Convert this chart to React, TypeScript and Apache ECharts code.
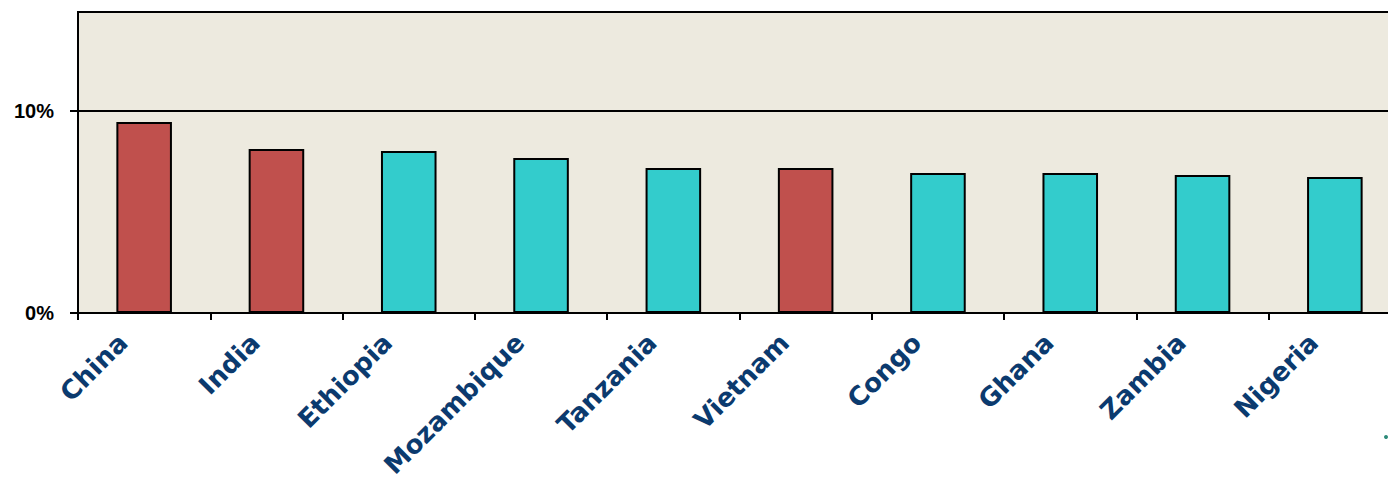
import React, { useEffect, useRef } from "react";
import * as echarts from "echarts";

const categories = ["China", "India", "Ethiopia", "Mozambique", "Tanzania", "Vietnam", "Congo", "Ghana", "Zambia", "Nigeria"];
const values = [9.46, 8.12, 8.02, 7.67, 7.18, 7.18, 6.93, 6.93, 6.83, 6.73];
const highlighted = [true, true, false, false, false, true, false, false, false, false];
const yTickValues = [0, 10];

const RED = "#C0504D";
const TEAL = "#33CCCC";

export default function App() {
  const ref = useRef<HTMLDivElement>(null);
  useEffect(() => {
    if (!ref.current) return;
    const chart = echarts.init(ref.current, null, { renderer: "svg" });
    chart.setOption({
      animation: false,
      grid: {
        left: 78,
        top: 12,
        width: 1323,
        height: 301,
        show: true,
        outerBoundsMode: "none",
        containLabel: false,
        backgroundColor: "#EDEADF",
        borderColor: "#000",
        borderWidth: 2,
      },
      xAxis: {
        type: "category",
        data: categories,
        axisLine: { lineStyle: { color: "#000", width: 2 } },
        axisTick: { show: true, length: 7, interval: 0, lineStyle: { color: "#000", width: 2 } },
        axisLabel: {
          interval: 0,
          rotate: 45,
          margin: 4,
          padding: [0, 30, 0, 0],
          color: "#0B3A6E",
          fontFamily: "DejaVu Sans",
          fontWeight: "bold",
          fontSize: 26,
        },
      },
      yAxis: {
        type: "value",
        min: 0,
        max: 14.9,
        interval: 10,
        axisLine: { show: true, lineStyle: { color: "#000", width: 2 } },
        axisTick: { show: true, length: 8, customValues: yTickValues, lineStyle: { color: "#000", width: 2 } },
        axisLabel: {
          customValues: yTickValues,
          formatter: (v: number) => `${v}%`,
          color: "#000",
          fontFamily: "Liberation Sans",
          fontWeight: "bold",
          fontSize: 20,
          margin: 24,
        },
        splitLine: { show: true, lineStyle: { color: "#000", width: 2 } },
      },
      series: [
        {
          type: "bar",
          barWidth: "42%",
          data: values.map((v, i) => ({
            value: v,
            itemStyle: { color: highlighted[i] ? RED : TEAL },
          })),
          itemStyle: { borderColor: "#000", borderWidth: 2 },
        },
      ],
      graphic: [
        { type: "circle", shape: { cx: 1386, cy: 437, r: 2 }, style: { fill: "#2E8B7A" } },
      ],
    });
    return () => chart.dispose();
  }, []);
  return (
    <div style={{ position: "fixed", left: 0, top: 0, width: 1388, height: 482, overflow: "hidden", background: "#fff" }}>
      <div ref={ref} style={{ width: 1410, height: 482 }} />
    </div>
  );
}
